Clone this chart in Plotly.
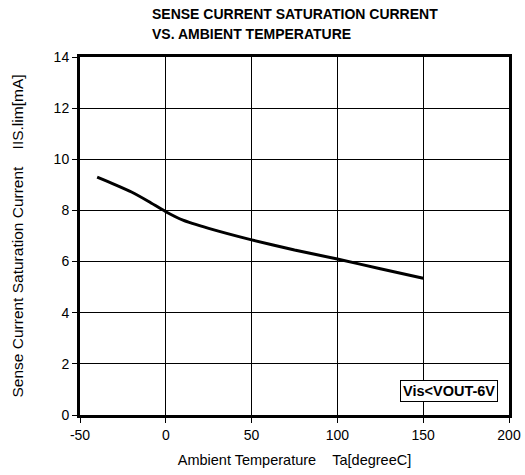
import plotly.graph_objects as go

# Ambient temperature (degC) and sense current saturation current (mA)
temperature = [-40, -30, -20, -10, 0, 10, 25, 50, 75, 100, 125, 150]
current_ma = [9.3, 9.02, 8.72, 8.35, 7.95, 7.62, 7.3, 6.85, 6.45, 6.1, 5.72, 5.35]

x_ticks = [-50, 0, 50, 100, 150, 200]
x_tick_labels = ["-50", "0", "50", "100", "150", "200"]
y_ticks = [0, 2, 4, 6, 8, 10, 12, 14]

title_lines = ["SENSE CURRENT SATURATION CURRENT", "VS. AMBIENT TEMPERATURE"]
condition_label = "Vis&lt;VOUT-6V"

font_family = "Liberation Sans, Arial, sans-serif"
fs = 14
sp = "&nbsp;" * 4

W, H = 525, 475
ML, MR, MT, MB = 80, 16, 57, 60
plot_w, plot_h = W - ML - MR, H - MT - MB

fig = go.Figure()
fig.add_trace(go.Scatter(
    x=temperature, y=current_ma, mode="lines",
    line=dict(color="black", width=3, shape="spline", smoothing=0.6),
    hoverinfo="skip", showlegend=False,
))

axis_common = dict(
    showline=True, linecolor="black", linewidth=3, mirror=True,
    showgrid=True, gridcolor="black", gridwidth=1,
    ticks="outside", ticklen=5, tickcolor="black", tickwidth=1,
    zeroline=False, automargin=False,
    tickfont=dict(size=fs, color="black", family=font_family),
)

fig.update_xaxes(
    range=[-50, 200], tickvals=x_ticks, ticktext=x_tick_labels,
    title=dict(text=f"Ambient Temperature{sp}Ta[degreeC]",
               font=dict(size=14.5, color="black", family=font_family), standoff=14),
    **axis_common,
)
fig.update_yaxes(
    range=[0, 14], tickvals=y_ticks,
    title=dict(text=f"Sense Current Saturation Current{sp}IIS.lim[mA]",
               font=dict(size=15.5, color="black", family=font_family), standoff=27),
    **axis_common,
)

fig.add_annotation(
    x=193.6, y=0.5, xref="x", yref="y", xanchor="right", yanchor="bottom",
    text=f"<b>{condition_label}</b>", showarrow=False,
    font=dict(size=14.5, color="black", family=font_family),
    bordercolor="black", borderwidth=1, borderpad=2, bgcolor="white",
)

# Two-line bold heading above the plot area (paper coords span the plot area)
for i, line in enumerate(title_lines):
    px_y = 14 + 20 * i
    fig.add_annotation(
        x=(150 - ML) / plot_w, y=1 + (MT - px_y) / plot_h,
        xref="paper", yref="paper",
        xanchor="left", yanchor="middle", text=f"<b>{line}</b>", showarrow=False,
        font=dict(size=fs, color="black", family=font_family),
    )

fig.update_layout(
    width=W, height=H,
    margin=dict(l=ML, r=MR, t=MT, b=MB),
    paper_bgcolor="white", plot_bgcolor="white",
    font=dict(family=font_family, color="black"),
)

fig.write_html("out.html")
